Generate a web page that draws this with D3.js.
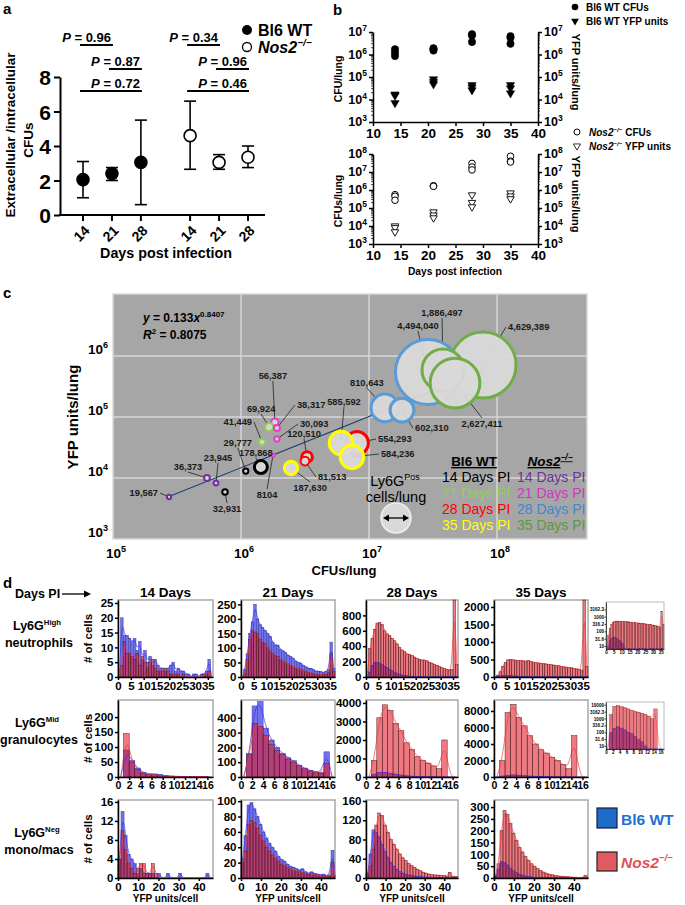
<!DOCTYPE html>
<html>
<head>
<meta charset="utf-8">
<script src="https://cdn.jsdelivr.net/npm/d3@7"></script>
<style>
  body { margin: 0; background: #fff; }
</style>
</head>
<body>
<script>
// ---------- panel a: extracellular / intracellular ratio
var aDays = ["14", "21", "28"];
var aWtMean = [2.05, 2.4, 3.05], aWtLow = [1.0, 2.0, 0.6], aWtHigh = [3.1, 2.75, 5.5];
var aKoMean = [4.6, 3.05, 3.35], aKoLow = [2.65, 2.65, 2.75], aKoHigh = [6.6, 3.5, 4.0];
var aPText = ["0.96", "0.87", "0.72", "0.34", "0.96", "0.46"];
var aPGroup = [0, 0, 0, 1, 1, 1];
var aPFrom = [0, 1, 0, 0, 1, 0];
var aPTo = [1, 2, 2, 1, 2, 2];

// ---------- panel b: CFU and YFP per lung
var bDays = [14, 21, 28, 35];
var bWtCfu = [[1.7e6, 1.2e6, 8.5e5], [1.9e6, 1.7e6, 1.5e6], [8e6, 7e6, 3.6e6], [6.5e6, 5.5e6, 3.0e6]];
var bWtYfp = [[1.7e4, 1.5e4, 7e3], [8e4, 6e4, 4.8e4], [4.4e4, 3.5e4, 2.6e4], [4.4e4, 3.2e4, 1.9e4]];
var bKoCfu = [[5.5e5, 4.5e5, 2.7e5], [1.7e6, 1.7e6, 1.6e6], [3e7, 1.9e7, 1.3e7], [7.5e7, 4e7, 3.6e7]];
var bKoYfp = [[1e4, 8e3, 4.7e3], [6e4, 4e4, 2.8e4], [5.3e5, 2e5, 1.15e5], [6.8e5, 4.6e5, 3.2e5]];

// ---------- panel c: bubbles (CFU, YFP, Ly6G+ cells, group)
var cGroups = ["Bl6 WT 14", "Bl6 WT 21", "Bl6 WT 28", "Bl6 WT 35", "Nos2 14", "Nos2 21", "Nos2 28", "Nos2 35"];
var cColors = ["#000000", "#92d050", "#ff0000", "#ffff00", "#7030a0", "#e03fc8", "#5b9bd5", "#70ad47"];
var cTextColors = ["#000000", "#92d050", "#ff0000", "#ffff00", "#7030a0", "#d633c4", "#3f87d0", "#5a9a3a"];
var cCfu = [2.89e7, 7.78e7, 3.79e7, 4.70e7, 1.33e7, 1.81e7, 8.06e6, 6.04e6, 7.36e6, 3.28e6, 3.16e6, 2.46e6,
            1.84e6, 1.66e6, 1.91e6, 1.91e6, 1.46e6, 1.09e6, 1.43e6, 1.78e6, 5.42e5, 6.38e5, 7.50e5, 2.74e5];
var cYfp = [5.47e5, 7.12e5, 5.89e5, 3.61e5, 1.41e5, 1.30e5, 3.75e4, 3.75e4, 2.21e4, 2.21e4, 1.90e4, 1.46e4,
            8.28e4, 6.86e4, 6.61e4, 4.36e4, 3.89e4, 1.30e4, 1.51e4, 2.38e4, 1.0e4, 8.28e3, 5.89e3, 4.88e3];
var cCells = [4494040, 4629389, 1886497, 2627411, 810643, 602310, 554293, 585592, 584236, 120510, 81513, 187630,
              56387, 69924, 38317, 30093, 41449, 29777, 178868, 8104, 36373, 23945, 32931, 19567];
var cGroup = [6, 7, 7, 7, 6, 6, 2, 3, 3, 2, 2, 3, 5, 1, 5, 5, 1, 0, 0, 5, 4, 4, 0, 4];
// label offsets from each bubble
var cLabDx = [-10, 25, -1, 27, -18, 13, 21, 3, 29, -3, 13, 19, -2, -8, 20, 23, -10, -8, -5, -6, -19, 2, 2, -11];
var cLabDy = [-43, -35, -54, 44, -22, 21, -1, -38, 0, -20, 19, 23, -43, -15, -20, -12, -17, -25, -11, 43, -8, -22, 20, -1];
var cLabAnchor = ["middle", "start", "middle", "middle", "middle", "start", "start", "middle", "start", "middle", "start", "middle",
                  "middle", "middle", "start", "start", "end", "middle", "middle", "middle", "middle", "middle", "middle", "end"];
var cFitA = 0.133, cFitB = 0.8407, cFitRange = [2.74e5, 7.8e7];
var cLegendDays = ["14 Days PI", "21 Days PI", "28 Days PI", "35 Days PI"];

// ---------- panel d: YFP units per cell histograms
var hDays = ["14 Days", "21 Days", "28 Days", "35 Days"];
var hRowNames = [["Ly6G", "High", "neutrophils"], ["Ly6G", "Mid", "granulocytes"], ["Ly6G", "Neg", "mono/macs"]];
// row 1 neutrophils, bins of 1 unit (0..36)
var h1Wt14 = [0,20,14,14,13,12,13,9,12,6,9,5,7,4,6,4,3,3,2,3,4,5,2,3,2,2,1,1,0,1,1,0,1,1,2,6,0];
var h1Ko14 = [0,4,12,8,8,7,6,8,4,7,5,3,5,6,3,2,2,2,3,2,1,1,1,1,0,1,0,0,0,0,0,0,0,1,1,2,0];
var h1Wt21 = [0,25,80,150,190,250,200,180,170,160,150,140,120,110,110,95,90,85,75,70,65,55,50,48,40,35,30,30,25,20,20,18,15,20,25,120,30];
var h1Ko21 = [0,10,60,130,160,155,150,130,120,115,100,90,80,75,70,60,55,50,45,40,35,30,28,25,22,18,15,14,12,10,10,8,8,10,15,80,20];
var h1Wt28 = [0,60,150,190,190,180,160,140,120,100,80,60,45,35,25,20,15,10,8,5,4,3,3,2,2,2,1,1,1,1,1,1,1,1,2,5,1];
var h1Ko28 = [0,370,500,620,700,710,680,600,560,540,500,470,430,380,350,330,300,290,280,260,240,230,220,220,210,190,180,160,150,140,120,110,100,90,100,1000,160];
var h1Wt35 = [0,10,25,35,40,40,35,30,25,20,15,8,6,5,5,4,4,3,3,3,3,2,2,2,2,2,2,2,1,1,1,1,1,1,1,3,1];
var h1Ko35 = [0,50,150,300,420,490,500,490,480,470,470,460,450,470,440,420,410,400,390,380,370,360,350,340,330,320,300,290,280,270,260,250,230,220,200,2200,300];
// row 2 granulocytes, bins of 1 unit (0..16)
var h2Wt14 = [0,90,55,30,15,10,10,8,4,3,2,2,1,1,2,1,0];
var h2Ko14 = [0,145,50,25,12,8,8,5,3,2,2,1,1,1,2,1,0];
var h2Wt21 = [0,160,480,510,330,250,200,160,130,110,80,60,45,35,30,170,0];
var h2Ko21 = [0,150,360,340,280,220,180,150,120,100,75,55,40,30,25,90,0];
var h2Wt28 = [0,150,250,250,200,150,100,60,40,20,10,5,5,0,0,0,0];
var h2Ko28 = [0,900,3200,3900,3600,2900,2500,1850,1500,1100,900,750,600,450,2000,0,0];
var h2Wt35 = [0,100,200,250,200,150,100,80,50,30,20,10,5,0,0,0,0];
var h2Ko35 = [0,2000,7800,8800,7200,6200,5000,4000,3300,2900,2400,2000,1500,1000,5000,0,0];
// row 3 mono/macs, bins of 1.5 units (0..31)
var h3Wt14 = [4,14,9,5,4,3,1,2,1,1,1,1,0,1,0,0,1,0,0,0,1,0,0,0,0,0,0,0,0,1,0,0];
var h3Ko14 = [4,10,6,3,2,1,2,3,3,1,1,3,1,0,0,0,0,0,0,0,0,0,0,0,0,0,0,0,0,0,0,0];
var h3Wt21 = [25,55,95,98,90,80,70,60,52,45,40,35,28,24,22,18,15,14,12,10,12,8,6,8,6,5,4,5,3,4,36,3];
var h3Ko21 = [20,35,70,75,72,65,55,48,40,35,30,26,22,18,16,14,12,10,9,8,7,6,5,5,4,4,3,3,2,2,20,2];
var h3Wt28 = [5,50,100,95,85,70,55,42,32,24,18,13,10,8,6,5,4,3,3,2,2,1,1,1,1,1,1,1,1,1,1,0];
var h3Ko28 = [10,25,60,110,135,130,110,95,80,70,60,50,42,36,30,26,22,18,15,12,10,8,7,6,6,5,5,4,12,3,3,2];
var h3Wt35 = [5,35,70,65,55,40,30,22,16,12,8,6,4,3,2,2,1,1,1,1,0,0,0,0,0,0,0,0,0,0,0,0];
var h3Ko35 = [10,60,200,285,270,230,190,160,130,110,90,75,60,50,40,32,25,20,16,13,10,8,7,6,5,4,3,3,2,2,10,2];

var hWt = [[h1Wt14, h1Wt21, h1Wt28, h1Wt35], [h2Wt14, h2Wt21, h2Wt28, h2Wt35], [h3Wt14, h3Wt21, h3Wt28, h3Wt35]];
var hKo = [[h1Ko14, h1Ko21, h1Ko28, h1Ko35], [h2Ko14, h2Ko21, h2Ko28, h2Ko35], [h3Ko14, h3Ko21, h3Ko28, h3Ko35]];
var hYTicks = [
  [[0,5,10,15,20,25], [0,50,100,150,200,250], [0,200,400,600,800], [0,500,1000,1500,2000]],
  [[0,50,100,150,200], [0,100,200,300,400], [0,1000,2000,3000,4000], [0,2000,4000,6000,8000]],
  [[0,4,8,12,16], [0,20,40,60,80,100], [0,40,80,120,160], [0,50,100,150,200,250,300]]
];
var hYMax = [[26, 265, 1000, 2200], [257, 520, 4160, 9330], [16.4, 101.5, 162, 330]];
var hXTicks = [[0,5,10,15,20,25,30,35], [0,2,4,6,8,10,12,14,16], [0,10,20,30,40]];
var hInsetTicks = [[10, 31.6, 100, 316.2, 1000, 3162.3], [10, 31.6, 100, 316.2, 1000, 3162.3, 10000]];

// ---------- drawing helpers
var svg = d3.select("body").append("svg")
    .attr("width", 685).attr("height", 905)
    .attr("font-family", "Arial, 'Liberation Sans', Helvetica, sans-serif");

function addText(x, y, s, size, opt) {
  opt = opt || {};
  var t = svg.append("text").attr("x", x).attr("y", y).attr("font-size", size)
      .attr("font-weight", opt.weight || "bold")
      .attr("text-anchor", opt.anchor || "start")
      .attr("fill", opt.fill || "#000");
  if (opt.italic) t.attr("font-style", "italic");
  if (opt.underline) t.attr("text-decoration", "underline");
  if (opt.rotate) t.attr("transform", "rotate(" + opt.rotate + "," + x + "," + y + ")");
  if (s !== null) t.text(s);
  return t;
}
function sup(t, s, size) {
  t.append("tspan").attr("dy", -size * 0.42).attr("font-size", size * 0.62).text(s);
  return t;
}
function styleAxis(g, size, sw) {
  g.attr("font-family", null).attr("font-size", null);
  g.select(".domain").attr("stroke-width", sw);
  g.selectAll(".tick line").attr("stroke-width", sw);
  g.selectAll(".tick text").attr("font-size", size).attr("font-weight", "bold").attr("fill", "#000");
}

// panel letters
addText(3, 14, "a", 15);
addText(333, 15, "b", 15);
addText(3, 298, "c", 15);
addText(3, 588, "d", 15);

// ================= panel a
var ax = d3.scaleLinear().domain([0, 5.7]).range([83, 248]);
var ay = d3.scaleLinear().domain([0, 8]).range([215, 77]);
function aX(g, i) { return ax(i + g * 3.7); }

var gAy = svg.append("g").attr("transform", "translate(60,0)")
    .call(d3.axisLeft(ay).tickValues([0, 2, 4, 6, 8]).tickSize(6).tickSizeOuter(0).tickPadding(3));
styleAxis(gAy, 21, 2);
gAy.selectAll(".tick text").attr("dy", "0.36em");
svg.append("line").attr("x1", 59).attr("x2", 265).attr("y1", 215).attr("y2", 215)
    .attr("stroke", "#000").attr("stroke-width", 2);

[0, 1].forEach(function(g) {
  aDays.forEach(function(d, i) {
    var x = aX(g, i);
    svg.append("line").attr("x1", x).attr("x2", x).attr("y1", 215).attr("y2", 221)
        .attr("stroke", "#000").attr("stroke-width", 2);
    addText(x + 2, 237, d, 14, {anchor: "middle", rotate: -45});
  });
});

var aSeries = [
  {mean: aWtMean, lo: aWtLow, hi: aWtHigh, fill: "#000"},
  {mean: aKoMean, lo: aKoLow, hi: aKoHigh, fill: "#fff"}
];
aSeries.forEach(function(s, g) {
  var pts = s.mean.map(function(m, i) { return {x: aX(g, i), m: m, lo: s.lo[i], hi: s.hi[i]}; });
  var sel = svg.append("g").selectAll("g").data(pts).enter().append("g")
      .attr("stroke", "#000").attr("stroke-width", 1.6);
  sel.append("line").attr("x1", function(d) { return d.x; }).attr("x2", function(d) { return d.x; })
      .attr("y1", function(d) { return ay(d.lo); }).attr("y2", function(d) { return ay(d.hi); });
  ["lo", "hi"].forEach(function(k) {
    sel.append("line").attr("x1", function(d) { return d.x - 6; }).attr("x2", function(d) { return d.x + 6; })
        .attr("y1", function(d) { return ay(d[k]); }).attr("y2", function(d) { return ay(d[k]); });
  });
  sel.append("circle").attr("cx", function(d) { return d.x; }).attr("cy", function(d) { return ay(d.m); })
      .attr("r", 6).attr("fill", s.fill);
});

aPText.forEach(function(p, k) {
  var row = k % 3;
  var x1 = aX(aPGroup[k], aPFrom[k]) - 3, x2 = aX(aPGroup[k], aPTo[k]) + 1;
  var ly = [45, 69, 91][row];
  svg.append("line").attr("x1", x1).attr("x2", x2).attr("y1", ly).attr("y2", ly)
      .attr("stroke", "#000").attr("stroke-width", 2);
  var t = addText(x2 - 2, ly - 3, null, 13, {anchor: "end"});
  t.append("tspan").attr("font-style", "italic").text("P");
  t.append("tspan").text(" = " + p);
});

addText(15, 135, "Extracellular /intracellular", 13.5, {anchor: "middle", rotate: -90});
addText(33, 140, "CFUs", 13.5, {anchor: "middle", rotate: -90});
addText(166, 258, "Days post infection", 14.3, {anchor: "middle"});

svg.append("circle").attr("cx", 247).attr("cy", 30).attr("r", 5).attr("fill", "#000");
addText(258, 36, "Bl6 WT", 16);
svg.append("circle").attr("cx", 247).attr("cy", 47).attr("r", 4.5).attr("fill", "#fff").attr("stroke", "#000").attr("stroke-width", 1.3);
sup(addText(258, 53, "Nos2", 16, {italic: true}), "\u2212/\u2212", 16);

// ================= panel b
var bx = d3.scaleLinear().domain([10, 40]).range([373, 538]);
var byTop = d3.scaleLog().domain([1e3, 1e7]).range([122, 32]);
var byBot = d3.scaleLog().domain([1e3, 1e8]).range([244, 154]);

function logAxis(y, x, side, lo, hi) {
  var decades = d3.range(lo, hi + 1).map(function(e) { return Math.pow(10, e); });
  var axis = (side === "left" ? d3.axisLeft(y) : d3.axisRight(y))
      .tickValues(decades).tickFormat("").tickSize(4).tickSizeOuter(0);
  var g = svg.append("g").attr("transform", "translate(" + x + ",0)").call(axis);
  styleAxis(g, 12, 1.5);
  var minors = [];
  for (var e = lo; e < hi; e++) for (var m = 2; m < 10; m++) minors.push(m * Math.pow(10, e));
  g.selectAll(".minor").data(minors).enter().append("line")
      .attr("x1", 0).attr("x2", side === "left" ? -2 : 2)
      .attr("y1", function(d) { return y(d); }).attr("y2", function(d) { return y(d); })
      .attr("stroke", "#000").attr("stroke-width", 0.7);
  decades.forEach(function(d, i) {
    var t = g.append("text").attr("x", side === "left" ? -6 : 6).attr("y", y(d) + 4)
        .attr("text-anchor", side === "left" ? "end" : "start")
        .attr("fill", "#000")
        .attr("font-size", 12.5).attr("font-weight", "bold");
    t.text("10");
    t.append("tspan").attr("dy", -5).attr("font-size", 8.5).text(lo + i);
  });
}

function drawB(y, bottom, lo, hi, cfu, yfp, open, leftTitle) {
  logAxis(y, 373, "left", lo, hi);
  logAxis(y, 538, "right", lo, hi);
  var gx = svg.append("g").attr("transform", "translate(0," + bottom + ")")
      .call(d3.axisBottom(bx).tickValues([10, 15, 20, 25, 30, 35, 40]).tickFormat(d3.format("d"))
        .tickSize(4).tickSizeOuter(0).tickPadding(2));
  styleAxis(gx, 13.5, 1.5);
  var cf = d3.merge(cfu.map(function(v, i) { return v.map(function(c) { return {day: bDays[i], v: c}; }); }));
  var yf = d3.merge(yfp.map(function(v, i) { return v.map(function(c) { return {day: bDays[i], v: c}; }); }));
  svg.append("g").selectAll("circle").data(cf).enter().append("circle")
      .attr("cx", function(d) { return bx(d.day); }).attr("cy", function(d) { return y(d.v); })
      .attr("r", open ? 3.3 : 3.7).attr("fill", open ? "#fff" : "#000")
      .attr("stroke", "#000").attr("stroke-width", open ? 1 : 0.5);
  var tri = d3.symbol().type(d3.symbolTriangle).size(open ? 24 : 30);
  svg.append("g").selectAll("path").data(yf).enter().append("path")
      .attr("d", tri)
      .attr("transform", function(d) { return "translate(" + bx(d.day) + "," + y(d.v) + ") rotate(180)"; })
      .attr("fill", open ? "#fff" : "#000").attr("stroke", "#000").attr("stroke-width", open ? 0.9 : 0.5);
  var mid = (y.range()[0] + y.range()[1]) / 2;
  addText(342, mid + 2, leftTitle, 10.5, {anchor: "middle", rotate: -90});
  addText(572, mid - 5, "YFP units/lung", 11, {anchor: "middle", rotate: 90});
}
drawB(byTop, 122, 3, 7, bWtCfu, bWtYfp, false, "CFU/lung");
drawB(byBot, 244, 3, 8, bKoCfu, bKoYfp, true, "CFUs/lung");
addText(455, 275, "Days post infection", 10.2, {anchor: "middle"});

// panel b legends
svg.append("circle").attr("cx", 575).attr("cy", 7).attr("r", 3.3).attr("fill", "#000");
addText(586, 11, "Bl6 WT CFUs", 10);
svg.append("path").attr("d", d3.symbol().type(d3.symbolTriangle).size(26))
    .attr("transform", "translate(575,21) rotate(180)").attr("fill", "#000");
addText(586, 25, "Bl6 WT YFP units", 10);
svg.append("circle").attr("cx", 577).attr("cy", 132).attr("r", 3).attr("fill", "#fff").attr("stroke", "#000");
sup(addText(589, 136, "Nos2", 10, {italic: true}), "\u2212/\u2212", 10)
    .append("tspan").attr("dy", 4.2).attr("font-style", "normal").text(" CFUs");
svg.append("path").attr("d", d3.symbol().type(d3.symbolTriangle).size(22))
    .attr("transform", "translate(577,146) rotate(180)").attr("fill", "#fff").attr("stroke", "#000").attr("stroke-width", 0.8);
sup(addText(589, 150, "Nos2", 10, {italic: true}), "\u2212/\u2212", 10)
    .append("tspan").attr("dy", 4.2).attr("font-style", "normal").text(" YFP units");

// ================= panel c
var cx = d3.scaleLog().domain([1e5, 5.05e8]).range([113, 587]);
var cy = d3.scaleLog().domain([1e3, 1.04e7]).range([539, 294]);
var cr = d3.scaleSqrt().domain([0, 4.63e6]).range([0, 33]);

svg.append("rect").attr("x", 113).attr("y", 294).attr("width", 474).attr("height", 245)
    .attr("fill", "#a6a6a6").attr("stroke", "#d9d9d9").attr("stroke-width", 1.5);
var cGrid = svg.append("g").attr("stroke", "#d6d6d6").attr("stroke-width", 1.5);
[1e6, 1e7, 1e8].forEach(function(v) {
  cGrid.append("line").attr("x1", cx(v)).attr("x2", cx(v)).attr("y1", 294).attr("y2", 539);
});
[1e4, 1e5, 1e6].forEach(function(v) {
  cGrid.append("line").attr("x1", 113).attr("x2", 587).attr("y1", cy(v)).attr("y2", cy(v));
});

[3, 4, 5, 6].forEach(function(e) {
  var t = addText(108, cy(Math.pow(10, e)) - 2, "10", 13.5, {anchor: "end"});
  t.append("tspan").attr("dy", -6).attr("font-size", 9).text(e);
});
[5, 6, 7, 8].forEach(function(e) {
  var t = addText(cx(Math.pow(10, e)) + 3, 558, "10", 13.5, {anchor: "middle"});
  t.append("tspan").attr("dy", -6).attr("font-size", 9).text(e);
});
addText(344, 575, "CFUs/lung", 13, {anchor: "middle"});
addText(78, 417, "YFP units/lung", 15, {anchor: "middle", rotate: -90});

// regression line
var fit = d3.line().x(function(d) { return cx(d); }).y(function(d) { return cy(cFitA * Math.pow(d, cFitB)); });
svg.append("path").attr("d", fit(cFitRange)).attr("stroke", "#1f3f6f").attr("stroke-width", 1.1).attr("fill", "none");

var cData = cCfu.map(function(v, i) {
  return {x: cx(v), y: cy(cYfp[i]), r: Math.max(1.6, cr(cCells[i])), g: cGroup[i], n: cCells[i],
          lx: cx(v) + cLabDx[i], ly: cy(cYfp[i]) + cLabDy[i], a: cLabAnchor[i]};
});
// leader lines
svg.append("g").selectAll("line").data(cData).enter().append("line")
    .attr("x1", function(d) { return d.x; }).attr("y1", function(d) { return d.y; })
    .attr("x2", function(d) { return d.a === "end" ? d.lx + 2 : d.a === "start" ? d.lx - 2 : d.lx; })
    .attr("y2", function(d) { return d.a !== "middle" ? d.ly - 3 : (d.ly < d.y ? d.ly + 2 : d.ly - 9); })
    .attr("stroke", "#222").attr("stroke-width", 0.8);
svg.append("g").selectAll("circle").data(cData).enter().append("circle")
    .attr("cx", function(d) { return d.x; }).attr("cy", function(d) { return d.y; })
    .attr("r", function(d) { return d.r; })
    .attr("fill", "#d9d9d9").attr("fill-opacity", 0.95)
    .attr("stroke", function(d) { return cColors[d.g]; })
    .attr("stroke-width", function(d) { return d.r > 5 ? 3 : 2; });
svg.append("g").selectAll("text").data(cData).enter().append("text")
    .attr("x", function(d) { return d.lx; }).attr("y", function(d) { return d.ly; })
    .attr("text-anchor", function(d) { return d.a; })
    .attr("font-size", 9.3).attr("font-weight", "bold").attr("fill", "#1a1a1a")
    .text(function(d) { return d.n >= 10000 ? d3.format(",")(d.n) : String(d.n); });

// equation
var eq = addText(143, 322, null, 12);
eq.append("tspan").attr("font-style", "italic").text("y");
eq.append("tspan").text(" = 0.133");
eq.append("tspan").attr("font-style", "italic").text("x");
eq.append("tspan").attr("dy", -5).attr("font-size", 8).text("0.8407");
var r2 = addText(143, 339, null, 12);
r2.append("tspan").attr("font-style", "italic").text("R");
r2.append("tspan").attr("dy", -5).attr("font-size", 8).text("2");
r2.append("tspan").attr("dy", 5).text(" = 0.8075");

// legend inside c
addText(474, 466, "Bl6 WT", 13.5, {anchor: "middle", underline: true});
var nosHead = addText(550, 466, "Nos2", 13.5, {anchor: "middle", italic: true, underline: true});
sup(nosHead, "\u2212/\u2212", 13.5);
cLegendDays.forEach(function(s, i) {
  addText(442, 482 + i * 16, s, 14, {weight: "normal", fill: cTextColors[i]});
  addText(517, 482 + i * 16, s, 14, {weight: "normal", fill: cTextColors[i + 4]});
});
sup(addText(395, 486, "Ly6G", 14.5, {weight: "normal", anchor: "middle"}), "Pos", 14.5);
addText(396, 502, "cells/lung", 14.5, {weight: "normal", anchor: "middle"});
svg.append("circle").attr("cx", 396).attr("cy", 518).attr("r", 15).attr("fill", "#d9d9d9").attr("stroke", "#eeeeee").attr("stroke-width", 1.5);
svg.append("line").attr("x1", 386).attr("x2", 406).attr("y1", 518).attr("y2", 518).attr("stroke", "#000").attr("stroke-width", 1.3);
svg.append("path").attr("d", "M383,518 L389,514.5 L389,521.5 Z M409,518 L403,514.5 L403,521.5 Z").attr("fill", "#000");

// ================= panel d
addText(15, 598, "Days PI", 12.5);
svg.append("line").attr("x1", 62).attr("x2", 86).attr("y1", 594).attr("y2", 594).attr("stroke", "#000").attr("stroke-width", 1.3);
svg.append("path").attr("d", "M91,594 L84,590.5 L84,597.5 Z").attr("fill", "#000");

var hCols = [{l: 118, r: 213}, {l: 241, r: 335}, {l: 366, r: 458}, {l: 494, r: 588}];
var hRows = [
  {t: 600, b: 677, bw: 1, xd: [0, 37], fs: 11.5},
  {t: 700, b: 777, bw: 1, xd: [0, 17], fs: 10.5},
  {t: 800, b: 878, bw: 1.5, xd: [0, 47], fs: 11.5}
];
hDays.forEach(function(d, i) {
  addText((hCols[i].l + hCols[i].r) / 2, 597, d, 13.5, {anchor: "middle"});
});

function drawHist(o) {
  var x = d3.scaleLinear().domain(o.xd).range([o.l, o.r]).clamp(true);
  var y = (o.log ? d3.scaleLog() : d3.scaleLinear()).domain(o.yd).range([o.b, o.t]).clamp(true);
  var g = svg.append("g");
  g.append("rect").attr("x", o.l).attr("y", o.t).attr("width", o.r - o.l).attr("height", o.b - o.t)
      .attr("fill", "#fff").attr("stroke", "#a8a8a8").attr("stroke-width", o.small ? 0.8 : 1.5);
  var floor = o.yd[0];
  [[o.wt, "#7272ef", 1, "#3a3a9a"], [o.ko, "#e0192a", 0.58, "#4a2020"]].forEach(function(s) {
    var bars = s[0].map(function(v, i) { return {i: i, v: v}; }).filter(function(d) { return d.v > floor; });
    g.append("g").selectAll("rect").data(bars).enter().append("rect")
        .attr("x", function(d) { return x(d.i * o.bw); })
        .attr("width", function(d) { return Math.max(0, x((d.i + 1) * o.bw) - x(d.i * o.bw)); })
        .attr("y", function(d) { return y(d.v); })
        .attr("height", function(d) { return o.b - y(d.v); })
        .attr("fill", s[1]).attr("fill-opacity", s[2])
        .attr("stroke", s[3]).attr("stroke-width", o.small ? 0.3 : 0.5);
  });
  [[o.wt, "#3030ff"], [o.ko, "#ff3030"]].forEach(function(s) {
    var line = d3.line()
        .x(function(d, i) { return x((i + 0.5) * o.bw); })
        .y(function(d) { return y(Math.max(d, floor)); })
        .curve(d3.curveBasis);
    g.append("path").attr("d", line(s[0])).attr("fill", "none")
        .attr("stroke", s[1]).attr("stroke-width", o.small ? 0.5 : 0.8).attr("opacity", 0.85);
  });
  var gx = g.append("g").attr("transform", "translate(0," + o.b + ")")
      .call(d3.axisBottom(x).tickValues(o.xt).tickFormat(d3.format("d"))
        .tickSize(o.small ? 1.5 : 3).tickSizeOuter(0).tickPadding(o.small ? 0.5 : 1.5));
  styleAxis(gx, o.fs, o.small ? 0.7 : 1.5);
  var gy = g.append("g").attr("transform", "translate(" + o.l + ",0)")
      .call(d3.axisLeft(y).tickValues(o.yt).tickFormat(o.log ? d3.format("") : d3.format("d"))
        .tickSize(o.small ? 1.5 : 3).tickSizeOuter(0).tickPadding(o.small ? 0.5 : 1.5));
  styleAxis(gy, o.small ? o.fs : 11.5, o.small ? 0.7 : 1.5);
}

hRows.forEach(function(row, ri) {
  hCols.forEach(function(col, ci) {
    drawHist({l: col.l, r: col.r, t: row.t, b: row.b, bw: row.bw, xd: row.xd, xt: hXTicks[ri],
              yd: [0, hYMax[ri][ci]], yt: hYTicks[ri][ci], wt: hWt[ri][ci], ko: hKo[ri][ci], fs: row.fs});
  });
  var mid = (row.t + row.b) / 2;
  addText(92, mid, "# of cells", 11.5, {anchor: "middle", rotate: -90});
  var ly = ri === 2 ? 837 : [630, 727][ri];
  sup(addText(37, ly, hRowNames[ri][0], 12.5, {anchor: "middle"}), hRowNames[ri][1], 12.5);
  addText(39, ly + 17, hRowNames[ri][2], 12.5, {anchor: "middle"});
});
// log-scale insets for 35 days
[0, 1].forEach(function(ri) {
  var row = hRows[ri];
  drawHist({l: 606, r: 664, t: row.t + 2, b: row.b - 28, bw: row.bw, xd: row.xd, xt: hXTicks[ri],
            yd: ri === 0 ? [6.3, 10000] : [6, 16000], yt: hInsetTicks[ri], log: true, small: true,
            wt: hWt[ri][3], ko: hKo[ri][3], fs: 4.6});
});
hCols.forEach(function(col) {
  addText((col.l + col.r) / 2, 902, "YFP units/cell", 10, {anchor: "middle"});
});

// panel d legend
svg.append("rect").attr("x", 597).attr("y", 808).attr("width", 20).attr("height", 20)
    .attr("fill", "#1f6cc8").attr("stroke", "#1a1a4a").attr("stroke-width", 1.2);
addText(621, 825, "Bl6 WT", 15.5, {fill: "#1f6fd1"});
svg.append("rect").attr("x", 597).attr("y", 852).attr("width", 20).attr("height", 19)
    .attr("fill", "#e05a62").attr("stroke", "#222").attr("stroke-width", 1.2);
sup(addText(621, 868, "Nos2", 15.5, {italic: true, fill: "#e0505a"}), "\u2212/\u2212", 15.5);
</script>
</body>
</html>
